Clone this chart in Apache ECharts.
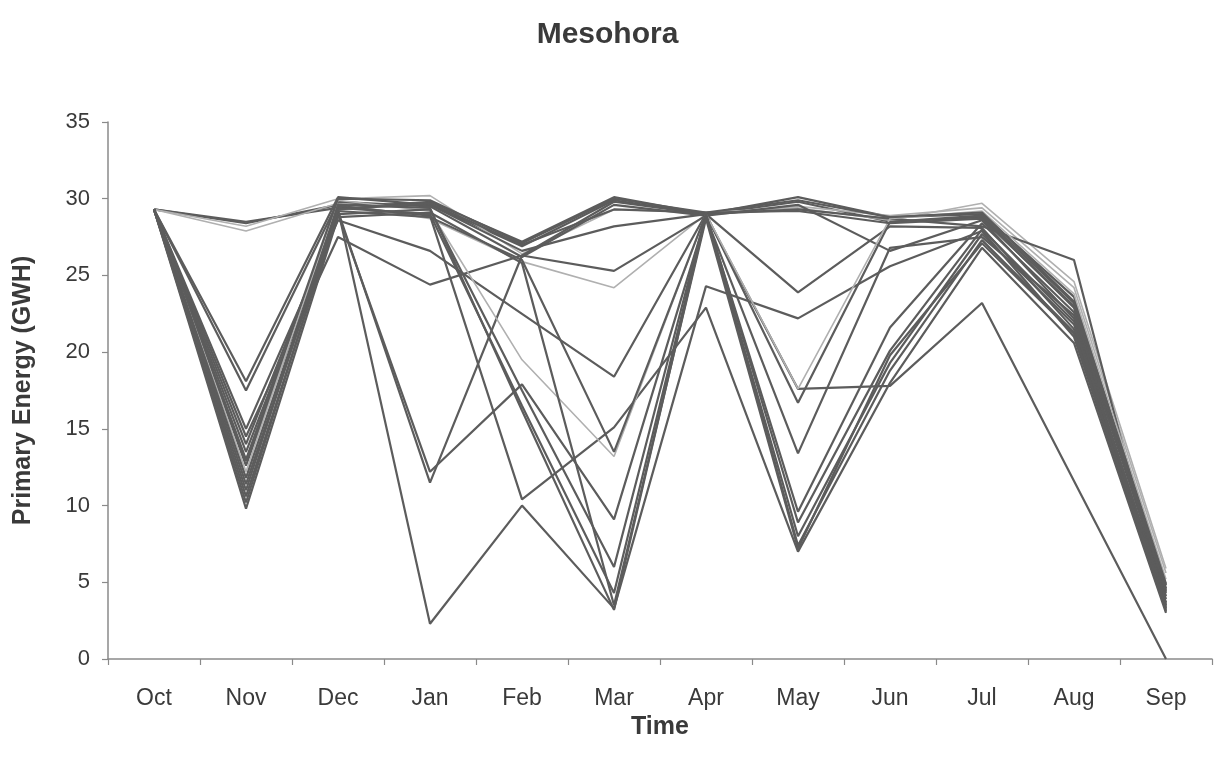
<!DOCTYPE html>
<html>
<head>
<meta charset="utf-8">
<script src="https://cdn.jsdelivr.net/npm/echarts@6/dist/echarts.min.js"></script>
<style>
html,body{margin:0;padding:0;background:#fff;}
#chart{width:1215px;height:765px;}
</style>
</head>
<body>
<div id="chart"></div>
<script>
const months = ['Oct','Nov','Dec','Jan','Feb','Mar','Apr','May','Jun','Jul','Aug','Sep'];
const yTicks = [0,5,10,15,20,25,30,35];

const s1  = [29.3, 28.5, 29.4, 29.8, 27.2, 30.1, 29.0, 30.1, 28.8, 29.0, 23.6, 4.6];
const s2  = [29.3, 28.4, 29.6, 29.6, 26.9, 29.9, 29.0, 29.8, 28.5, 28.8, 22.9, 4.1];
const s3  = [29.3, 28.2, 30.0, 30.2, 26.4, 29.3, 29.1, 29.4, 28.6, 29.7, 24.6, 5.9];
const s4  = [29.3, 27.9, 29.7, 28.7, 25.9, 24.2, 29.0, 29.5, 28.9, 29.4, 24.2, 5.6];
const s5  = [29.3, 18.1, 30.1, 29.6, 26.6, 28.2, 29.0, 29.3, 28.7, 28.2, 26.0, 3.1];
const s6  = [29.3, 17.5, 29.8, 29.5, 26.2, 29.6, 28.9, 29.6, 26.6, 28.6, 22.2, 3.6];
const s7  = [29.3, 15.0, 28.6, 26.6, 22.5, 18.4, 29.0, 23.9, 28.2, 28.1, 21.5, 3.4];
const s8  = [29.3, 14.5, 27.5, 24.4, 26.3, 25.3, 28.9, 17.6, 17.8, 23.2, 11.6, 0.0];
const s9  = [29.3, 14.0, 29.2, 11.5, 26.3, 29.8, 29.0, 16.7, 28.5, 28.9, 23.2, 4.8];
const s10 = [29.3, 13.5, 29.0, 12.2, 17.9, 9.1, 28.8, 13.4, 26.8, 27.5, 22.4, 4.3];
const s11 = [29.3, 13.0, 29.3, 2.3, 10.0, 3.3, 24.3, 22.2, 25.6, 27.9, 21.0, 3.2];
const s12 = [29.3, 12.6, 29.5, 28.9, 10.4, 15.1, 22.9, 7.0, 18.0, 26.8, 20.6, 3.0];
const s13 = [29.3, 12.2, 29.9, 29.2, 19.5, 13.2, 29.0, 17.6, 28.7, 29.2, 23.8, 5.2];
const s14 = [29.3, 11.8, 29.4, 29.0, 16.5, 4.3, 28.9, 9.6, 21.6, 28.4, 22.6, 4.4];
const s15 = [29.3, 11.4, 29.2, 28.8, 26.0, 13.5, 29.0, 8.9, 20.1, 28.0, 22.0, 3.9];
const s16 = [29.3, 11.0, 29.6, 29.4, 16.2, 3.2, 28.9, 8.0, 19.3, 27.7, 21.8, 3.7];
const s17 = [29.3, 10.6, 29.0, 29.3, 17.5, 6.0, 29.0, 7.4, 18.8, 27.3, 21.3, 3.5];
const s18 = [29.3, 10.2, 29.3, 29.7, 27.0, 29.3, 29.1, 29.2, 28.4, 28.7, 23.0, 4.5];
const s19 = [29.3, 9.8, 28.8, 29.1, 25.8, 3.5, 28.7, 7.2, 19.8, 27.1, 21.2, 3.3];
const s20 = [29.3, 12.9, 30.0, 29.9, 27.1, 30.0, 29.1, 29.9, 28.8, 29.1, 23.3, 4.9];

const allSeries = [s1,s2,s3,s4,s5,s6,s7,s8,s9,s10,s11,s12,s13,s14,s15,s16,s17,s18,s19,s20];
const lightIdx = [2,3,12];

const chart = echarts.init(document.getElementById('chart'), null, {renderer:'canvas'});
const FONT = 'Liberation Sans, Arial, sans-serif';

chart.setOption({
  animation: false,
  backgroundColor: '#fff',
  title: {
    text: 'Mesohora',
    left: 'center',
    top: 15,
    textStyle: {fontFamily: FONT, fontSize: 30, fontWeight: 'bold', color: '#3a3a3a'}
  },
  grid: {left: 108, right: 3, top: 122, bottom: 106, containLabel: false},
  xAxis: {
    type: 'category',
    data: months,
    boundaryGap: true,
    name: 'Time',
    nameLocation: 'middle',
    nameGap: 54,
    nameTextStyle: {fontFamily: FONT, fontSize: 25, fontWeight: 'bold', color: '#3a3a3a'},
    axisLine: {lineStyle: {color: '#8a8a8a', width: 1.5}},
    axisTick: {show: true, length: 6, lineStyle: {color: '#8a8a8a', width: 1.2}},
    axisLabel: {fontFamily: FONT, fontSize: 23, color: '#3a3a3a', margin: 28}
  },
  yAxis: {
    type: 'value',
    min: yTicks[0],
    max: yTicks[yTicks.length - 1],
    interval: 5,
    name: 'Primary Energy (GWH)',
    nameLocation: 'middle',
    nameGap: 72,
    nameTextStyle: {fontFamily: FONT, fontSize: 25, fontWeight: 'bold', color: '#3a3a3a'},
    axisLine: {show: true, lineStyle: {color: '#8a8a8a', width: 1.5}},
    axisTick: {show: true, length: 6, lineStyle: {color: '#8a8a8a', width: 1.2}},
    axisLabel: {fontFamily: FONT, fontSize: 22, color: '#3a3a3a', margin: 18},
    splitLine: {show: false}
  },
  series: allSeries.map((d, i) => ({
    type: 'line',
    data: d,
    symbol: 'none',
    silent: true,
    lineStyle: {
      width: lightIdx.includes(i) ? 1.6 : 2.2,
      color: lightIdx.includes(i) ? '#b0b0b0' : '#5c5c5c'
    }
  }))
});
</script>
</body>
</html>
